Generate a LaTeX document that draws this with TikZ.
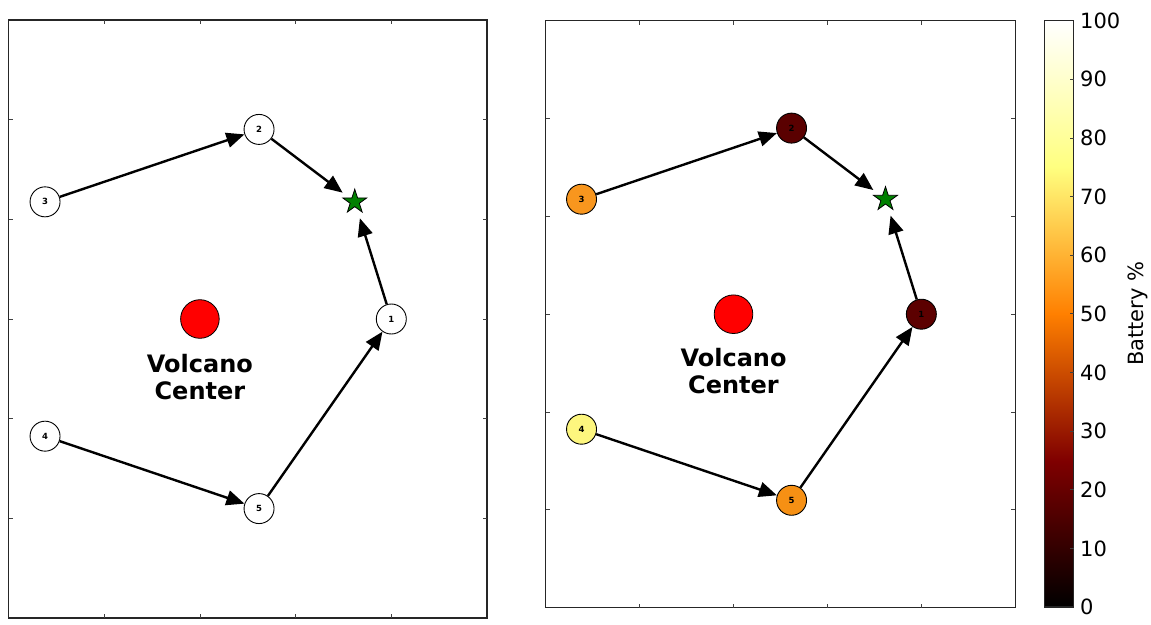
\documentclass[tikz,border=0pt]{standalone}
\usepackage{fontspec}
\setmainfont{DejaVu Sans}
\usetikzlibrary{arrows.meta,shapes.geometric}

% afmhot colour stops and sensor battery colours
\definecolor{cbA}{rgb}{0.5,0,0}
\definecolor{cbB}{rgb}{1,0.5,0}
\definecolor{cbC}{rgb}{1,1,0.5}
\definecolor{batA}{RGB}{92,0,0}
\definecolor{batB}{RGB}{90,0,0}
\definecolor{batC}{RGB}{248,150,30}
\definecolor{batD}{RGB}{253,246,126}
\definecolor{batE}{RGB}{246,144,20}
\definecolor{goalgreen}{RGB}{0,128,0}

\tikzset{
  frame/.style={line width=1.3pt, draw=black!85},
  tickmark/.style={line width=0.8pt, draw=black!75},
  sensor/.style={circle, draw=black, line width=0.9pt, minimum size=30pt, inner sep=0pt,
    font=\fontsize{8.5}{8.5}\selectfont\bfseries},
  hop/.style={line width=2.4pt, -{Triangle[length=18pt,width=15pt]}},
  goalzone/.style={circle, minimum size=30pt, inner sep=0pt},
  goal/.style={star, star points=5, star point ratio=2.618, minimum size=25.2pt, inner sep=0pt,
    fill=goalgreen, draw=black, line width=0.8pt},
  volcano/.style={circle, minimum size=38.6pt, inner sep=0pt, fill=red, draw=black, line width=0.8pt},
  vlabel/.style={align=center, inner sep=0pt, font=\fontsize{24}{26.5}\selectfont\bfseries},
  cblabel/.style={anchor=west, inner sep=0pt, font=\fontsize{21}{21}\selectfont},
}

\begin{document}
\begin{tikzpicture}[x=1pt, y=1pt]
\useasboundingbox (0,0) rectangle (1151,-624);
\fill[white] (0,0) rectangle (1151,-624);

% ---------- left panel: route without battery levels ----------
\begin{scope}[shift={(199.9pt,-319pt)}, x=95.7pt, y=99.67pt]
  \draw[frame] (-2,-3) rectangle (3,3);
  \foreach \t in {-1,0,1,2} {
    \draw[tickmark] (\t,-3) -- ++(0pt,4pt);
    \draw[tickmark] (\t,3) -- ++(0pt,-4pt);
  }
  \foreach \t in {-2,...,2} {
    \draw[tickmark] (-2,\t) -- ++(4pt,0pt);
    \draw[tickmark] (3,\t) -- ++(-4pt,0pt);
  }
  \node[volcano] (lv) at (0,0) {};
  \node[vlabel] (lvt) at (0,-0.58) {Volcano\\Center};
  \node[sensor, fill=white] (l1) at (2,0) {1};
  \node[sensor, fill=white] (l2) at ({2*cos(72)},{2*sin(72)}) {2};
  \node[sensor, fill=white] (l3) at ({2*cos(144)},{2*sin(144)}) {3};
  \node[sensor, fill=white] (l4) at ({2*cos(216)},{2*sin(216)}) {4};
  \node[sensor, fill=white] (l5) at ({2*cos(288)},{2*sin(288)}) {5};
  \node[goalzone] (lz) at ({2*cos(36)},{2*sin(36)}) {};
  \node[goal] (ls) at (lz) {};
  \draw[hop] (l3) -- (l2);
  \draw[hop] (l2) -- (lz);
  \draw[hop] (l4) -- (l5);
  \draw[hop] (l5) -- (l1);
  \draw[hop, shorten >=2pt] (l1) -- (lz);
\end{scope}

% ---------- right panel: sensors coloured by battery ----------
\begin{scope}[shift={(733.5pt,-314.2pt)}, x=93.92pt, y=97.83pt]
  \draw[frame] (-2,-3) rectangle (3,3);
  \foreach \t in {-1,0,1,2} {
    \draw[tickmark] (\t,-3) -- ++(0pt,4pt);
    \draw[tickmark] (\t,3) -- ++(0pt,-4pt);
  }
  \foreach \t in {-2,...,2} {
    \draw[tickmark] (-2,\t) -- ++(4pt,0pt);
    \draw[tickmark] (3,\t) -- ++(-4pt,0pt);
  }
  \node[volcano] (rv) at (0,0) {};
  \node[vlabel] (rvt) at (0,-0.58) {Volcano\\Center};
  \node[sensor, fill=batA] (r1) at (2,0) {1};
  \node[sensor, fill=batB] (r2) at ({2*cos(72)},{2*sin(72)}) {2};
  \node[sensor, fill=batC] (r3) at ({2*cos(144)},{2*sin(144)}) {3};
  \node[sensor, fill=batD] (r4) at ({2*cos(216)},{2*sin(216)}) {4};
  \node[sensor, fill=batE] (r5) at ({2*cos(288)},{2*sin(288)}) {5};
  \node[goalzone] (rz) at ({2*cos(36)},{2*sin(36)}) {};
  \node[goal] (rs) at (rz) {};
  \draw[hop] (r3) -- (r2);
  \draw[hop] (r2) -- (rz);
  \draw[hop] (r4) -- (r5);
  \draw[hop] (r5) -- (r1);
  \draw[hop, shorten >=2pt] (r1) -- (rz);
\end{scope}

% ---------- colour bar ----------
\shade[bottom color=black, top color=cbA] (1044.3,-607) rectangle (1073.7,-460.2);
\shade[bottom color=cbA, top color=cbB] (1044.3,-460.6) rectangle (1073.7,-313.6);
\shade[bottom color=cbB, top color=cbC] (1044.3,-314.0) rectangle (1073.7,-167.0);
\shade[bottom color=cbC, top color=white] (1044.3,-167.4) rectangle (1073.7,-20.7);
\draw[frame] (1044.3,-607) rectangle (1073.7,-20.7);
\foreach \v in {10,20,...,90} {
  \draw[tickmark] (1073.7,{-607+5.863*\v}) -- ++(-4pt,0pt);
}
\foreach \v in {0,10,...,100} {
  \node[cblabel] (cb\v) at (1080,{-607+5.863*\v}) {\v};
}
\node[rotate=90, inner sep=0pt, font=\fontsize{21}{21}\selectfont] (cbname) at (1138,-313.8) {Battery \%};
\end{tikzpicture}
\end{document}
